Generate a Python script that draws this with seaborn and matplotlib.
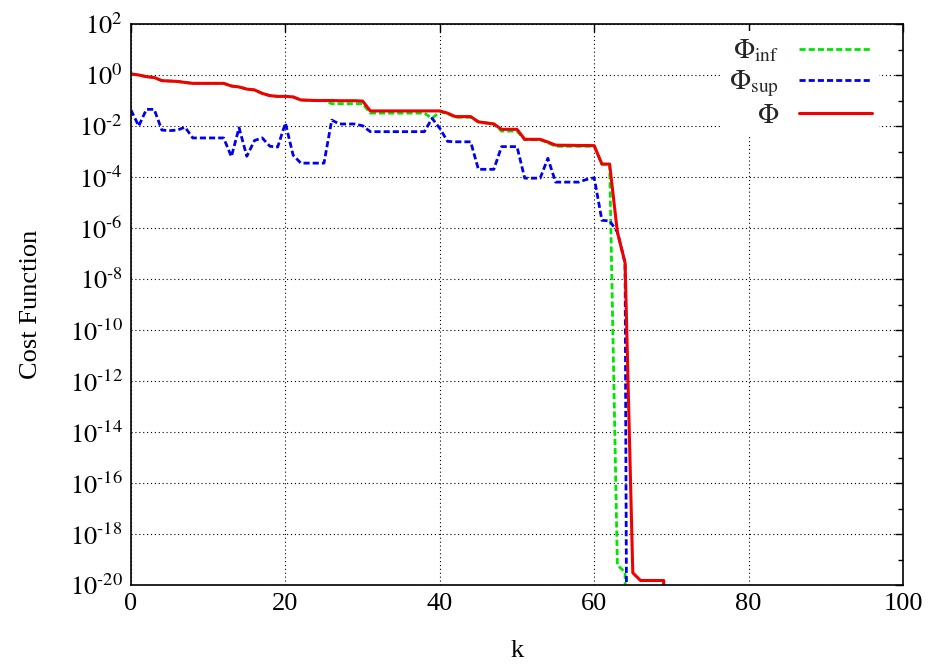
import math
import matplotlib
matplotlib.use("Agg")
import matplotlib.pyplot as plt
from matplotlib.ticker import FixedLocator, FuncFormatter, NullFormatter
import pandas as pd
import seaborn as sns

# Cost function per iteration k (k = 0, 1, 2, ...)
phi = [1.10, 1.00, 0.86, 0.80, 0.60, 0.58, 0.56, 0.51, 0.47, 0.47,
       0.47, 0.47, 0.47, 0.37, 0.34, 0.28, 0.26, 0.19, 0.155, 0.145,
       0.145, 0.138, 0.105, 0.102, 0.100, 0.100, 0.100, 0.098, 0.098, 0.098,
       0.095, 0.039, 0.039, 0.039, 0.039, 0.039, 0.039, 0.039, 0.039, 0.039,
       0.039, 0.032, 0.0234, 0.0234, 0.0234, 0.0145, 0.0132, 0.0120, 0.0074, 0.0074,
       0.0074, 0.0030, 0.0030, 0.0030, 0.00234, 0.00178, 0.00175, 0.00175, 0.00172, 0.00172,
       0.00170, 3.2e-4, 3.2e-4, 7.0e-7, 4.3e-8, 3.0e-20, 1.5e-20, 1.5e-20, 1.5e-20, 1.5e-20,
       1e-80]

phi_inf = [1.10, 1.00, 0.86, 0.80, 0.60, 0.58, 0.56, 0.51, 0.47, 0.47,
           0.47, 0.47, 0.47, 0.37, 0.34, 0.28, 0.26, 0.19, 0.155, 0.145,
           0.145, 0.138, 0.105, 0.102, 0.100, 0.100, 0.075, 0.075, 0.075, 0.075,
           0.075, 0.032, 0.032, 0.032, 0.032, 0.032, 0.032, 0.032, 0.032, 0.020,
           0.036, 0.031, 0.022, 0.022, 0.022, 0.0145, 0.0132, 0.0120, 0.0063, 0.0063,
           0.0063, 0.0029, 0.0029, 0.0029, 0.0022, 0.0016, 0.0016, 0.0016, 0.0016, 0.0016,
           0.0016, 3.2e-4, 3.2e-4, 6.0e-20, 3.2e-20, 1e-80]

phi_sup = [0.042, 0.010, 0.045, 0.045, 0.0069, 0.0066, 0.0069, 0.0090, 0.0034, 0.0034,
           0.0034, 0.0034, 0.0034, 6.3e-4, 0.0085, 6.5e-4, 0.0027, 0.0034, 0.0016, 0.0015,
           0.0130, 7.2e-4, 3.5e-4, 3.5e-4, 3.5e-4, 3.5e-4, 0.0170, 0.0120, 0.0120, 0.0120,
           0.0102, 0.0060, 0.0060, 0.0060, 0.0060, 0.0060, 0.0060, 0.0060, 0.0060, 0.0200,
           0.0081, 0.0025, 0.0024, 0.0024, 0.0024, 2.0e-4, 2.0e-4, 2.0e-4, 0.00155, 0.00155,
           0.00155, 9.0e-5, 9.0e-5, 9.0e-5, 5.4e-4, 6.3e-5, 6.3e-5, 6.3e-5, 6.3e-5, 8.0e-5,
           9.3e-5, 2.0e-6, 1.9e-6, 7.0e-7, 4.3e-8, 1e-80]

labels = [r"$\Phi_{\rm inf}$", r"$\Phi_{\rm sup}$", r"$\Phi$"]
colors = ["#00e600", "#0000f0", "#f00000"]
x_ticks = [0, 20, 40, 60, 80, 100]
y_major_exp = list(range(-20, 3, 2))
y_minor_exp = list(range(-19, 2, 2))

frames = []
for lab, vals in zip(labels, [phi_inf, phi_sup, phi]):
    frames.append(pd.DataFrame({"k": range(len(vals)), "value": vals, "series": lab}))
df = pd.concat(frames, ignore_index=True)

sns.set_theme(style="white")
plt.rcParams["font.family"] = ["Liberation Serif", "DejaVu Serif"]
plt.rcParams["mathtext.fontset"] = "stix"

fig = plt.figure(figsize=(9.30, 6.66), dpi=100)
ax = fig.add_axes([131 / 930, 81 / 666, 772 / 930, 561 / 666])

sns.lineplot(
    data=df, x="k", y="value", hue="series", style="series", size="series",
    hue_order=labels, style_order=labels, size_order=labels,
    palette=dict(zip(labels, colors)),
    dashes={labels[0]: (2.2, 1.1), labels[1]: (2.2, 1.1), labels[2]: ""},
    sizes={labels[0]: 2.0, labels[1]: 2.0, labels[2]: 2.2},
    estimator=None, legend=False, ax=ax,
)


def power_label(v, pos):
    e = round(math.log10(v))
    if e < 0:
        return r"$10^{\text{-}%d}$" % (-e)
    return r"$10^{%d}$" % e


ax.set_yscale("log")
ax.set_xlim(0, 100)
ax.set_ylim(1e-20, 1e2)
ax.xaxis.set_major_locator(FixedLocator(x_ticks))
ax.yaxis.set_major_locator(FixedLocator([10.0 ** e for e in y_major_exp]))
ax.yaxis.set_minor_locator(FixedLocator([10.0 ** e for e in y_minor_exp]))
ax.yaxis.set_major_formatter(FuncFormatter(power_label))
ax.yaxis.set_minor_formatter(NullFormatter())

ax.grid(True, which="major", color="black", linestyle=(0, (1, 2.5)), linewidth=0.8)
ax.tick_params(which="both", direction="in", top=True, right=True, color="black",
               labelsize=19, labelcolor="black")
ax.tick_params(which="major", length=6, width=1.0, pad=6)
ax.tick_params(which="minor", length=3.5, width=1.0)
for sp in ax.spines.values():
    sp.set_color("black")
    sp.set_linewidth(1.2)

ax.set_xlabel("k", fontsize=19, color="black", labelpad=18)
ax.set_ylabel("Cost Function", fontsize=19, color="black", labelpad=20)

handles = ax.get_lines()[:3]
leg = ax.legend(handles, labels, loc="upper right", bbox_to_anchor=(0.969, 0.987),
                markerfirst=False, frameon=True, facecolor="white", edgecolor="none",
                framealpha=1.0, fancybox=False, fontsize=20, handlelength=2.65,
                labelspacing=0.15, borderaxespad=0.0, borderpad=0.25, handletextpad=0.7)

fig.savefig("out.png", dpi=100)
